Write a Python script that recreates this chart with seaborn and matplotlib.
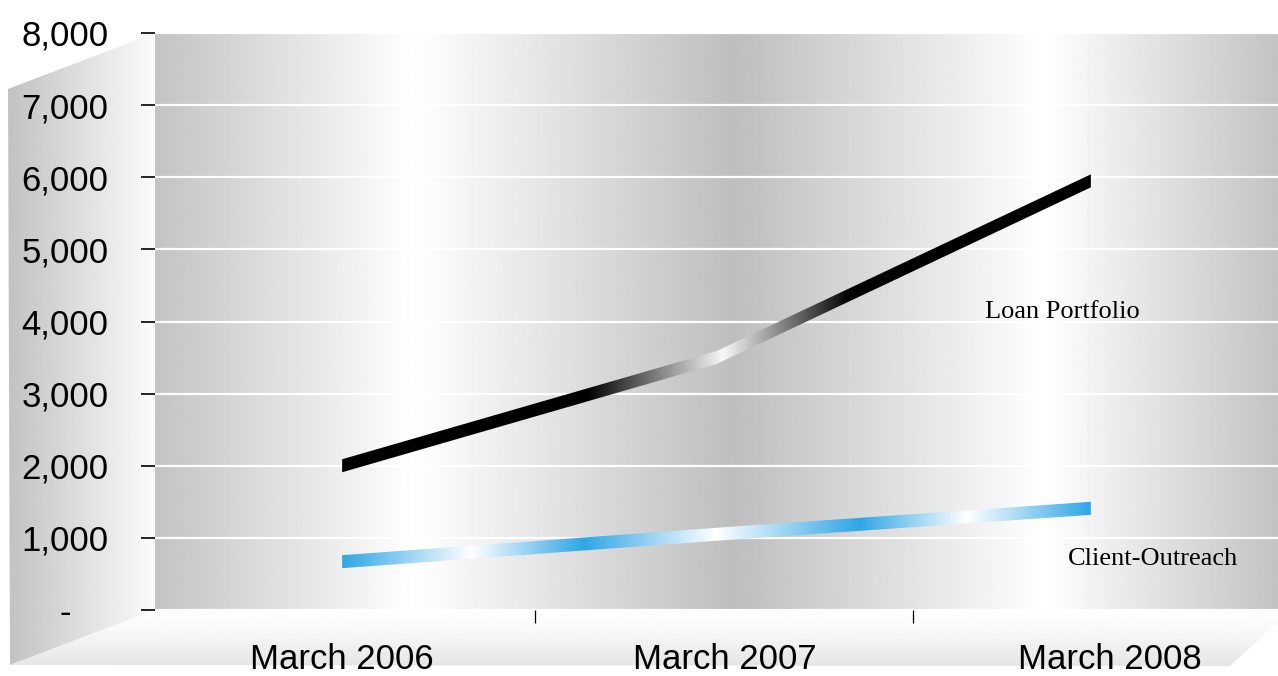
import numpy as np
import pandas as pd
import matplotlib
matplotlib.use("Agg")
import matplotlib.pyplot as plt
import seaborn as sns
from matplotlib.colors import to_rgb
from matplotlib.patches import Polygon
from matplotlib.transforms import ScaledTranslation

# ---- data -------------------------------------------------------------
periods = ["March 2006", "March 2007", "March 2008"]
loan_portfolio = [2000, 3500, 5950]
client_outreach = [670, 1050, 1410]
series_names = ["Loan Portfolio", "Client-Outreach"]
y_ticks = [0, 1000, 2000, 3000, 4000, 5000, 6000, 7000, 8000]
y_tick_labels = ["-", "1,000", "2,000", "3,000", "4,000", "5,000",
                 "6,000", "7,000", "8,000"]

df = pd.DataFrame({
    "period": periods * 2,
    "pos": list(range(len(periods))) * 2,
    "value": loan_portfolio + client_outreach,
    "series": [series_names[0]] * 3 + [series_names[1]] * 3,
})

# ---- style ------------------------------------------------------------
sns.set_theme(style="white")
plt.rcParams["font.family"] = ["Liberation Sans", "DejaVu Sans"]

W, H, DPI = 1278, 676, 100
fig = plt.figure(figsize=(W / DPI, H / DPI), dpi=DPI)

# background layer in pixel coordinates: side wall and floor of the 3-D box
bg = fig.add_axes([0, 0, 1, 1], zorder=-1)
bg.set_xlim(0, W)
bg.set_ylim(H, 0)
bg.axis("off")

wall = Polygon([(8, 89), (155, 33), (155, 610), (10, 665)], closed=True,
               facecolor="none", edgecolor="none")
bg.add_patch(wall)
wall_grad = np.interp(np.linspace(0, 1, 256), [0, 1], [0.76, 0.985])
im = bg.imshow(np.tile(wall_grad, (2, 1)), cmap="gray", vmin=0, vmax=1,
               extent=(8, 155, 665, 33), aspect="auto", interpolation="bilinear")
im.set_clip_path(wall)

floor = Polygon([(10, 665), (155, 610), (1278, 610), (1278, 622), (1230, 666)],
                closed=True, facecolor="none", edgecolor="none")
bg.add_patch(floor)
floor_grad = np.interp(np.linspace(0, 1, 128), [0, 0.35, 1], [1.0, 0.975, 0.9])
im2 = bg.imshow(np.tile(floor_grad[:, None], (1, 2)), cmap="gray", vmin=0, vmax=1,
                extent=(8, 1278, 666, 610), aspect="auto", interpolation="bilinear")
im2.set_clip_path(floor)

# main plotting area (back wall)
ax = fig.add_axes([155 / W, (H - 610) / H, 1123 / W, 577 / H], zorder=1)
ax.set_facecolor("none")
XLIM, YLIM = (-0.5, 2.5), (0, 8000)

# vertical light/shade bands on the back wall
band_px = [155, 415, 735, 1045, 1278]
band_val = [0.765, 1.0, 0.745, 1.0, 0.765]
xs = np.linspace(155, 1278, 1123)
band = np.interp(xs, band_px, band_val)
ax.imshow(np.tile(band, (2, 1)), cmap="gray", vmin=0, vmax=1,
          extent=(*XLIM, *YLIM), aspect="auto", interpolation="bilinear",
          zorder=0)

ax.set_axisbelow(True)
ax.yaxis.grid(True, color="white", linewidth=1.6)
ax.xaxis.grid(False)
for s in ax.spines.values():
    s.set_visible(False)

sns.lineplot(data=df, x="pos", y="value", hue="series", hue_order=series_names,
             palette=["black", "#2FA6E6"], linewidth=8.5, legend=False, ax=ax,
             zorder=3)
ax.set_xlim(*XLIM)
ax.set_ylim(*YLIM)
ax.set_xlabel("")
ax.set_ylabel("")

# shaded ribbons: each line becomes a flat band whose colour varies along x
blue = to_rgb("#2FA6E6")
white = (1.0, 1.0, 1.0)
black = (0.0, 0.0, 0.0)
shade_stops = {
    series_names[0]: ([-0.5, 0.654, 1.017, 1.357, 2.5],
                      [black, black, (0.97, 0.97, 0.97), black, black]),
    series_names[1]: ([-0.5, 0.0, 0.345, 0.645, 1.0, 1.383, 1.669, 2.0, 2.5],
                      [blue, blue, white, blue, white, blue, white, blue, blue]),
}
half_px = 6.5
inv = ax.transData.inverted()
half_dy = inv.transform((0, half_px))[1] - inv.transform((0, 0))[1]
gx = np.linspace(*XLIM, 1500)
for line, name in zip(ax.lines[:2], series_names):
    xy = line.get_xydata()
    line.set_visible(False)
    top = [(x, y + half_dy) for x, y in xy]
    bottom = [(x, y - half_dy) for x, y in xy[::-1]]
    ribbon = Polygon(top + bottom, closed=True, transform=ax.transData)
    sx, cols = shade_stops[name]
    cols = np.array(cols)
    rgb = np.stack([np.interp(gx, sx, cols[:, k]) for k in range(3)], axis=-1)
    img = ax.imshow(np.tile(rgb[None, :, :], (2, 1, 1)), extent=(*XLIM, *YLIM),
                    aspect="auto", interpolation="bilinear", zorder=3)
    img.set_clip_path(ribbon)
ax.set_xlim(*XLIM)
ax.set_ylim(*YLIM)

# series labels
ax.text(1.717, 4050, series_names[0], family=["Liberation Serif"], fontsize=19,
        ha="left", va="baseline", color="black", zorder=4)
ax.text(1.939, 624, series_names[1], family=["Liberation Serif"], fontsize=19,
        ha="left", va="baseline", color="black", zorder=4)

# y axis
ax.set_yticks(y_ticks)
ax.set_yticklabels(y_tick_labels)
ax.tick_params(axis="y", which="major", left=True, length=10, width=1.2,
               color="black", pad=23.5, labelsize=25, labelcolor="black",
               direction="out")
zero_label = ax.get_yticklabels()[0]
zero_label.set_transform(zero_label.get_transform()
                         + ScaledTranslation(-0.37, 0, fig.dpi_scale_trans))

# x axis: category names on the floor, separators at the boundaries
ax.set_xticks(range(len(periods)))
ax.set_xticklabels(periods)
ax.tick_params(axis="x", which="major", bottom=True, length=0, pad=24,
               labelsize=25, labelcolor="black")
depth_shift = [0, 8, 19]
for lab, dx in zip(ax.get_xticklabels(), depth_shift):
    lab.set_transform(lab.get_transform()
                      + ScaledTranslation(dx / DPI, 0, fig.dpi_scale_trans))
ax.set_xticks([0.515, 1.525], minor=True)
ax.tick_params(axis="x", which="minor", bottom=True, length=9, width=0.9,
               color="black", direction="out")

fig.savefig("out.png", dpi=DPI)
